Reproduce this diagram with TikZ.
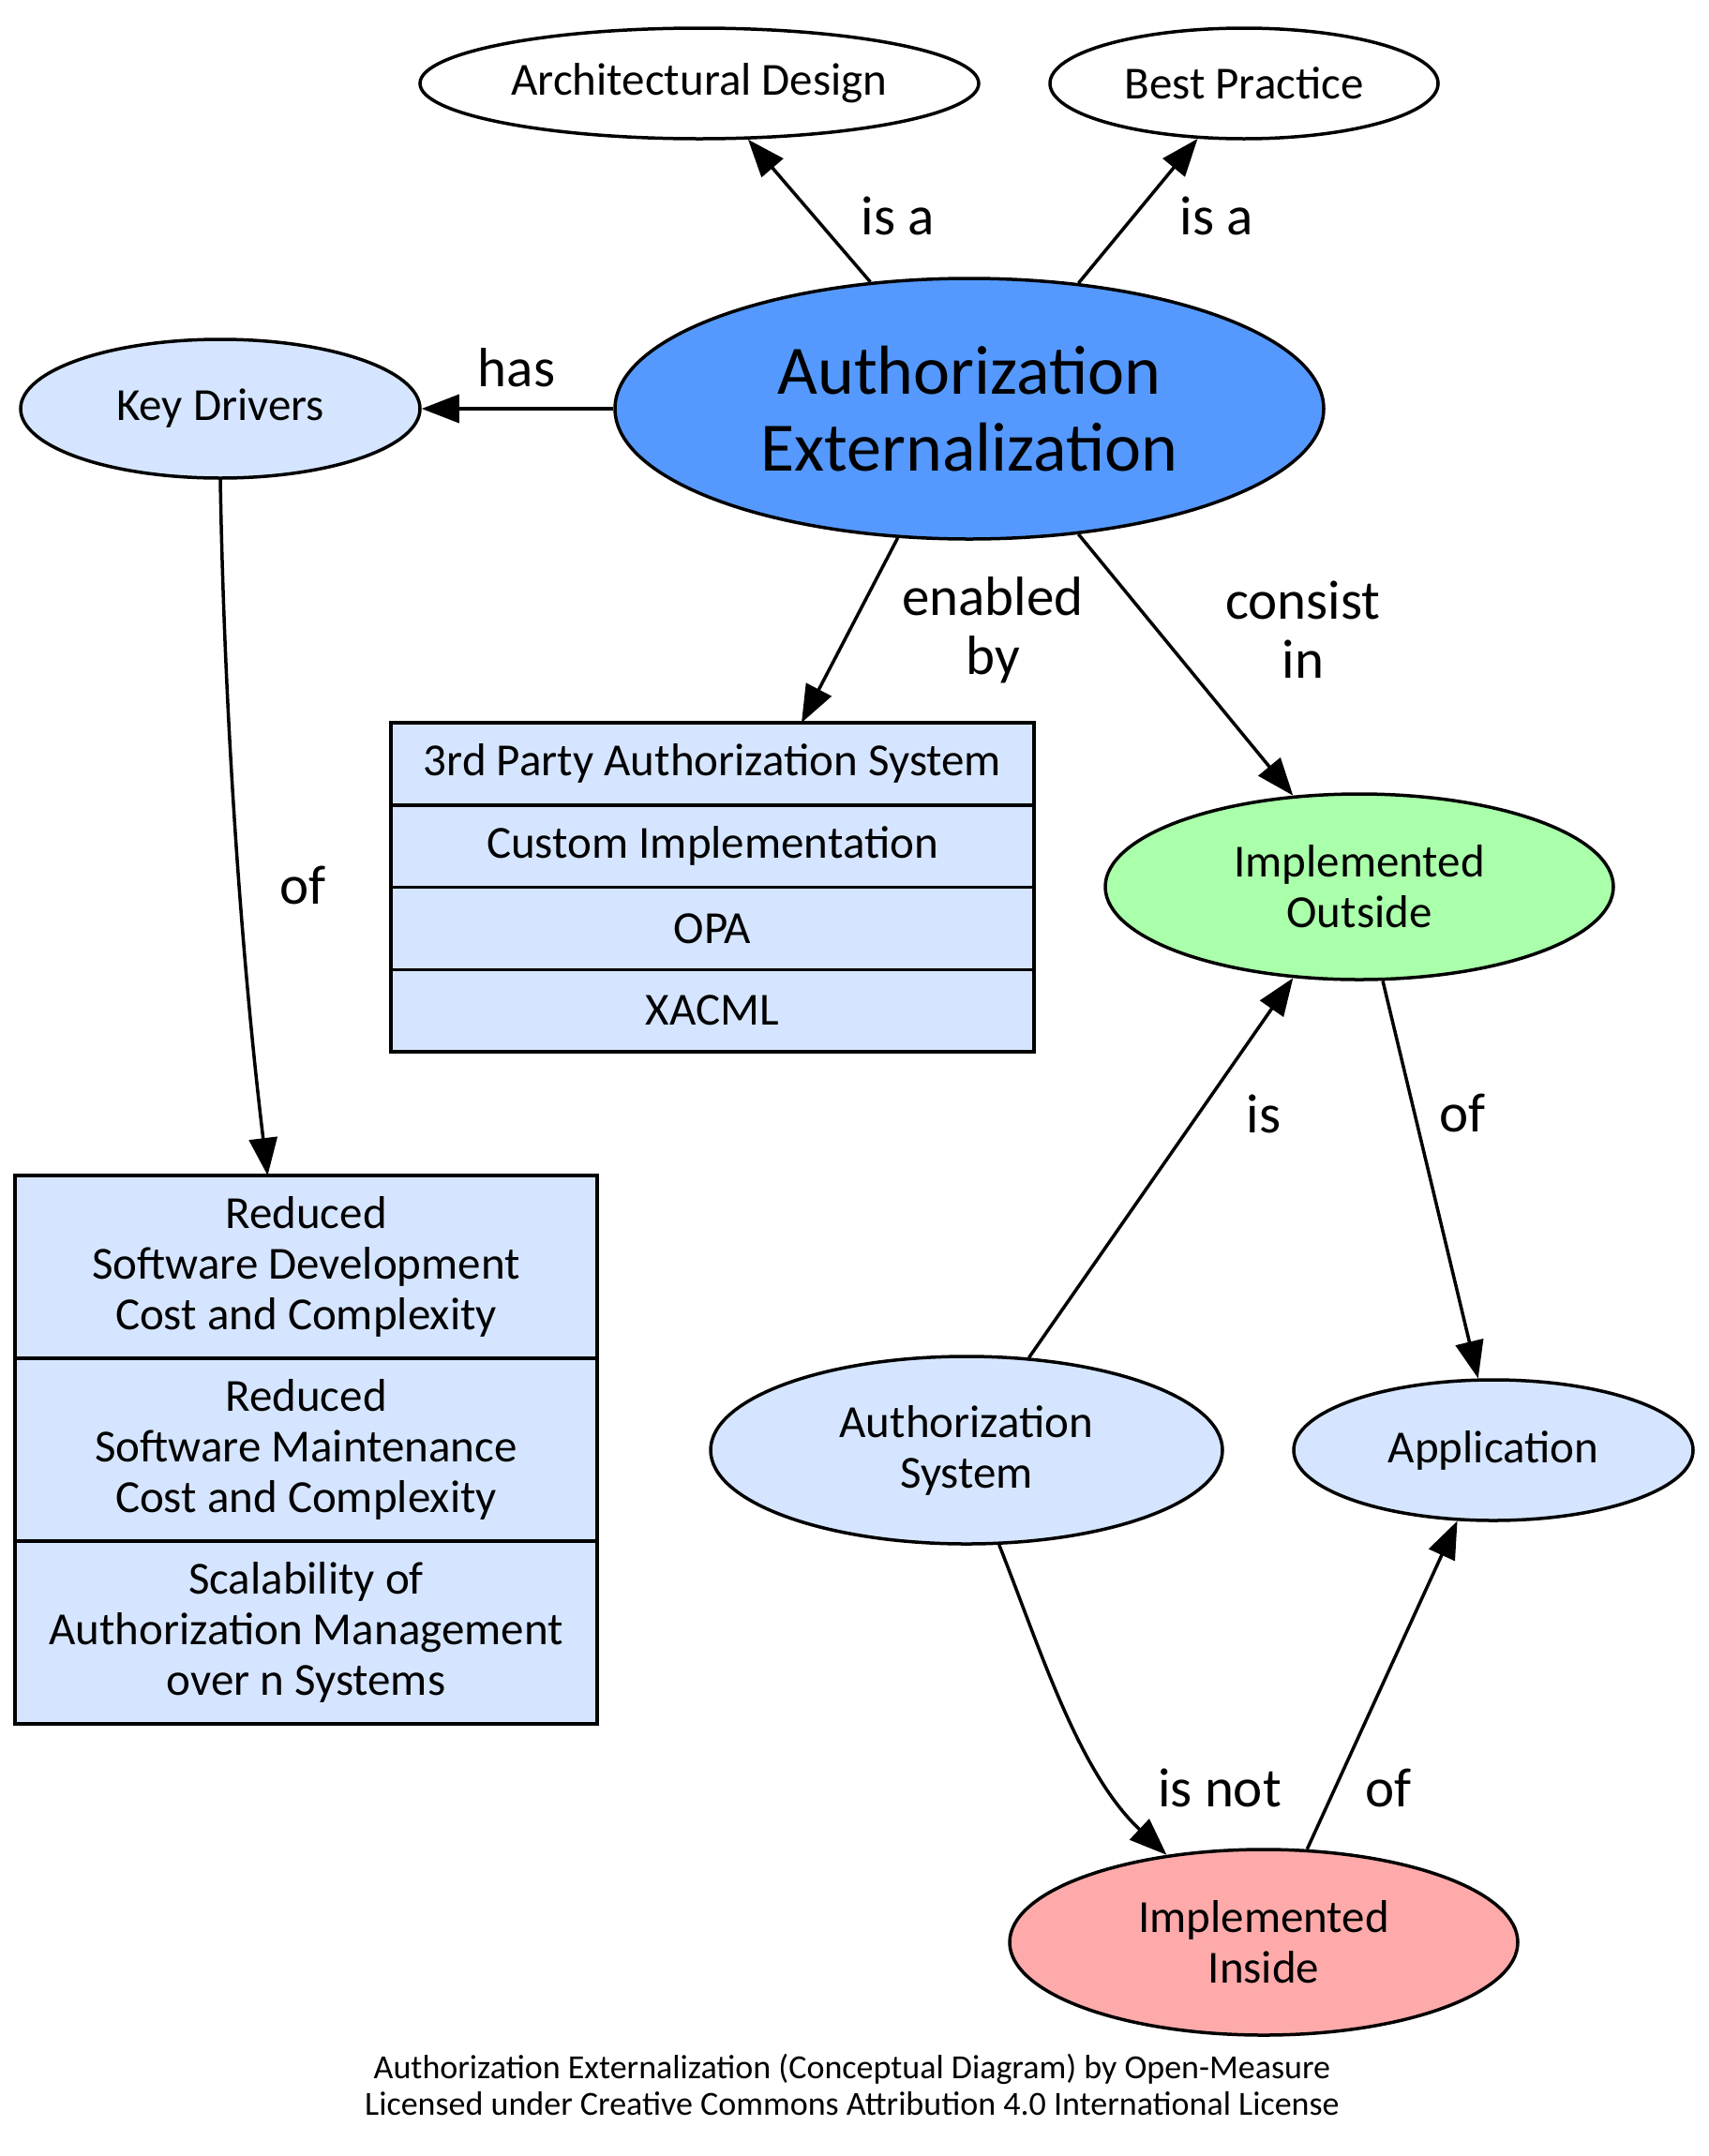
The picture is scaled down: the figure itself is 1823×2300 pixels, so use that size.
\documentclass[tikz,border=0pt]{standalone}
\usepackage{fontspec}
\setmainfont{Carlito}
\usetikzlibrary{arrows.meta,shapes.geometric}
\definecolor{aeblue}{HTML}{5599FF}
\definecolor{lightblue}{HTML}{D5E5FF}
\definecolor{lightgreen}{HTML}{AAFFAA}
\definecolor{lightred}{HTML}{FFAAAA}
\tikzset{
  oval/.style={ellipse, draw, line width=3.5pt, inner sep=0pt, align=center,
    font=\fontsize{49}{54}\selectfont},
  rowbox/.style={rectangle, draw, line width=3.5pt, fill=lightblue, inner sep=0pt,
    outer sep=0pt, align=center, anchor=north, font=\fontsize{49}{54}\selectfont},
  edgelbl/.style={align=center, inner sep=0pt, font=\fontsize{59}{63}\selectfont},
  conn/.style={line width=3.5pt, -{Triangle[length=40pt,width=30pt]}},
  footer/.style={inner sep=0pt, font=\fontsize{36}{37}\selectfont}
}
\begin{document}
\begin{tikzpicture}[x=1pt,y=-1pt]
\path[use as bounding box, fill=white] (0,0) rectangle (1823,2300);

% ellipses
\node[oval, minimum width=596pt, minimum height=118pt] (ad) at (746,89) {Architectural Design};
\node[oval, minimum width=414pt, minimum height=118pt] (bp) at (1327,89) {Best Practice};
\node[oval, fill=aeblue, minimum width=756pt, minimum height=278pt,
  font=\fontsize{74}{82}\selectfont] (ae) at (1034,436) {Authorization\\Externalization};
\node[oval, fill=lightblue, minimum width=426pt, minimum height=148pt] (kd) at (235,436) {Key Drivers};
\node[oval, fill=lightgreen, minimum width=542pt, minimum height=198pt] (io) at (1450,946) {Implemented\\Outside};
\node[oval, fill=lightblue, minimum width=546pt, minimum height=200pt] (as) at (1031,1547) {Authorization\\System};
\node[oval, fill=lightblue, minimum width=426pt, minimum height=150pt] (app) at (1593,1547) {Application};
\node[oval, fill=lightred, minimum width=542pt, minimum height=198pt] (ii) at (1348,2072) {Implemented\\Inside};

% enabled-by record
\node[rowbox, minimum width=686pt, minimum height=87.75pt] (tp1) at (760,771) {3rd Party Authorization System};
\node[rowbox, minimum width=686pt, minimum height=87.75pt] (tp2) at (tp1.south) {Custom Implementation};
\node[rowbox, minimum width=686pt, minimum height=87.75pt] (tp3) at (tp2.south) {OPA};
\node[rowbox, minimum width=686pt, minimum height=87.75pt] (tp4) at (tp3.south) {XACML};

% key drivers record
\node[rowbox, minimum width=621pt, minimum height=195pt] (rd1) at (326.5,1254) {Reduced\\Software Development\\Cost and Complexity};
\node[rowbox, minimum width=621pt, minimum height=195pt] (rd2) at (rd1.south) {Reduced\\Software Maintenance\\Cost and Complexity};
\node[rowbox, minimum width=621pt, minimum height=195pt] (rd3) at (rd2.south) {Scalability of\\Authorization Management\\over n Systems};

% connectors
\draw[conn] (ae.128.8) -- (ad.-49.8);
\draw[conn] (ae.49.8) -- (bp.230.7);
\draw[conn] (ae.west) -- (kd.east);
\draw[conn] (ae.241.8) -- ([xshift=95pt]tp1.north);
\draw[conn] (ae.-49.9) -- (io.126.8);
\draw[conn] (kd.south) .. controls (240,800) and (262,1060) .. ([xshift=-41pt]rd1.north);
\draw[conn] (as.56) -- (io.234.6);
\draw[conn] (io.-76.5) -- (app.102);
\draw[conn] (as.-71.2) .. controls (1110,1760) and (1150,1890) .. (ii.138.5);
\draw[conn] (ii.65.3) -- (app.243.1);

% edge labels
\node[edgelbl] (l1) at (958,230) {is a};
\node[edgelbl] (l2) at (1298,230) {is a};
\node[edgelbl] (l3) at (551,392) {has};
\node[edgelbl] (l4) at (1059,672) {enabled\\by};
\node[edgelbl] (l5) at (1390,672) {consist\\in};
\node[edgelbl] (l6) at (323,944) {of};
\node[edgelbl] (l7) at (1348,1188) {is};
\node[edgelbl] (l8) at (1560,1187) {of};
\node[edgelbl] (l9) at (1301,1907) {is not};
\node[edgelbl] (l10) at (1481,1907) {of};

% footer
\node[footer] (f1) at (909,2207) {Authorization Externalization (Conceptual Diagram) by Open-Measure};
\node[footer] (f2) at (909,2244) {Licensed under Creative Commons Attribution 4.0 International License};
\end{tikzpicture}
\end{document}
